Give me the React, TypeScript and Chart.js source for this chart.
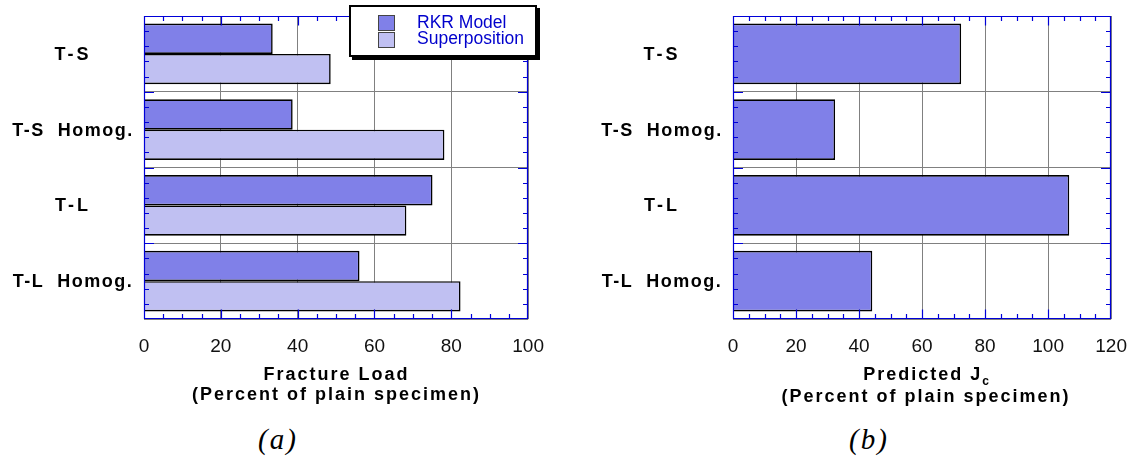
import React, { useEffect, useRef } from "react";
import { Chart, registerables } from "chart.js";

Chart.register(...registerables);

// ---------- data ----------
const categories = ["T-S", "T-S  Homog.", "T-L", "T-L  Homog."];
const seriesNames = ["RKR Model", "Superposition"];
const rkrFractureLoad = [33.5, 38.7, 75.1, 56.1];
const superpositionFractureLoad = [48.6, 78.2, 68.3, 82.4];
const predictedJc = [72.4, 32.4, 106.7, 44.2];
const loadTicks = [0, 20, 40, 60, 80, 100];
const jcTicks = [0, 20, 40, 60, 80, 100, 120];

// ---------- styles ----------
const RKR_COLOR = "#8080e8";
const SUP_COLOR = "#c0c0f2";
const FRAME = "#0000d8";
const GRID = "#808080";
const LEGEND_TEXT = "#0000cc";
const SANS = "'Liberation Sans', Arial, Helvetica, sans-serif";
const SERIF = "'Liberation Serif', 'Times New Roman', serif";

const CANVAS_H = 365;
const PLOT_TOP = 16;
const PLOT_H = 303;

const framePlugin = {
  id: "frameTicks",
  afterDraw(chart: any) {
    const { ctx, chartArea, scales } = chart;
    const { left, right, top, bottom } = chartArea;
    const x = scales.x;
    const y = scales.y;
    const L = Math.round(left) + 0.5;
    const R = Math.round(right) - 0.5;
    const T = Math.round(top) + 0.5;
    const B = Math.round(bottom) - 0.5;
    ctx.save();
    ctx.strokeStyle = FRAME;
    ctx.lineWidth = 1.2;
    ctx.beginPath();
    ctx.rect(L, T, R - L, B - T);
    ctx.stroke();
    // x ticks (inner, top & bottom)
    const major = x.options.ticks.stepSize;
    const minor = major / 4;
    ctx.beginPath();
    for (let v = x.min + minor; v < x.max - 1e-6; v += minor) {
      const px = Math.round(x.getPixelForValue(v)) + 0.5;
      const isMajor = Math.abs(v / major - Math.round(v / major)) < 1e-6;
      const len = isMajor ? 9 : 4.5;
      ctx.moveTo(px, B);
      ctx.lineTo(px, B - len);
      ctx.moveTo(px, T);
      ctx.lineTo(px, T + len);
    }
    // y ticks (inner, left & right), 5 subdivisions per category
    const n = chart.data.labels.length;
    for (let k = 1; k < n * 5; k++) {
      const py = Math.round(y.getPixelForValue(-0.5 + k / 5)) + 0.5;
      const len = k % 5 === 0 ? 9.5 : 4.5;
      ctx.moveTo(L, py);
      ctx.lineTo(L + len, py);
      ctx.moveTo(R, py);
      ctx.lineTo(R - len, py);
    }
    ctx.stroke();
    // category labels
    ctx.fillStyle = "#000";
    ctx.font = `bold 18px ${SANS}`;
    ctx.textAlign = "center";
    ctx.textBaseline = "middle";
    chart.data.labels.forEach((lab: string, i: number) => {
      (ctx as any).letterSpacing = lab.length <= 3 ? "3px" : "1.5px";
      ctx.fillText(lab, left - 71, y.getPixelForValue(i) + 1);
    });
    ctx.restore();
  },
};

function makeConfig(datasets: any[], ticks: number[], yWidth: number, padRight: number) {
  return {
    type: "bar" as const,
    data: { labels: categories, datasets },
    options: {
      indexAxis: "y" as const,
      animation: false as const,
      responsive: false,
      devicePixelRatio: 1,
      layout: { padding: { top: PLOT_TOP, left: 0, right: padRight, bottom: 0 } },
      plugins: { legend: { display: false }, tooltip: { enabled: false }, title: { display: false } },
      scales: {
        x: {
          type: "linear" as const,
          min: ticks[0],
          max: ticks[ticks.length - 1],
          ticks: {
            stepSize: ticks[1] - ticks[0],
            color: "#111",
            font: { family: SANS, size: 19 },
            padding: 16,
          },
          grid: { color: GRID, lineWidth: 1, drawTicks: false },
          border: { display: false },
          afterFit: (s: any) => {
            s.height = CANVAS_H - PLOT_TOP - PLOT_H;
          },
        },
        y: {
          type: "category" as const,
          ticks: { display: false },
          grid: { color: GRID, lineWidth: 1, drawTicks: false, offset: true },
          border: { display: false },
          afterFit: (s: any) => {
            s.width = yWidth;
          },
        },
      },
    },
    plugins: [framePlugin],
  };
}

function ChartCanvas({ config, left, width }: { config: any; left: number; width: number }) {
  const ref = useRef<HTMLCanvasElement | null>(null);
  useEffect(() => {
    if (!ref.current) return;
    const chart = new Chart(ref.current, config);
    return () => chart.destroy();
  }, [config]);
  return (
    <canvas
      ref={ref}
      width={width}
      height={CANVAS_H}
      style={{ position: "absolute", left, top: 0, width, height: CANVAS_H }}
    />
  );
}

const barStyle = {
  borderColor: "#000",
  borderWidth: 1.6,
  barPercentage: 1,
  categoryPercentage: 0.8,
};

const leftConfig = makeConfig(
  [
    { label: seriesNames[0], data: rkrFractureLoad, backgroundColor: RKR_COLOR, ...barStyle },
    { label: seriesNames[1], data: superpositionFractureLoad, backgroundColor: SUP_COLOR, ...barStyle },
  ],
  loadTicks,
  144,
  31
);

const rightConfig = makeConfig(
  [{ label: "Predicted Jc", data: predictedJc, backgroundColor: RKR_COLOR, ...barStyle }],
  jcTicks,
  153,
  24
);

const titleStyle: React.CSSProperties = {
  position: "absolute",
  top: 363.5,
  textAlign: "center",
  fontFamily: SANS,
  fontWeight: "bold",
  fontSize: 18,
  lineHeight: "20px",
  letterSpacing: "2px",
  color: "#000",
  whiteSpace: "nowrap",
};

const captionStyle: React.CSSProperties = {
  position: "absolute",
  top: 425,
  width: 100,
  textAlign: "center",
  fontFamily: SERIF,
  fontStyle: "italic",
  fontSize: 29,
  lineHeight: "29px",
  letterSpacing: "2px",
  paddingLeft: 2,
  color: "#000",
};

function Legend() {
  const sw: React.CSSProperties = {
    position: "absolute",
    left: 27,
    width: 15,
    height: 14,
    border: "1px solid #444",
  };
  const txt: React.CSSProperties = {
    position: "absolute",
    left: 66,
    fontFamily: SANS,
    fontSize: 17.5,
    lineHeight: "17.5px",
    color: LEGEND_TEXT,
    whiteSpace: "nowrap",
  };
  return (
    <div
      style={{
        position: "absolute",
        left: 349,
        top: 5,
        width: 188,
        height: 52,
        boxSizing: "border-box",
        border: "2px solid #000",
        background: "#fff",
        boxShadow: "3px 3px 0 #000",
      }}
    >
      <div style={{ ...sw, top: 8, background: RKR_COLOR }} />
      <div style={{ ...sw, top: 25, background: SUP_COLOR }} />
      <div style={{ ...txt, top: 6.5 }}>{seriesNames[0]}</div>
      <div style={{ ...txt, top: 22.8 }}>{seriesNames[1]}</div>
    </div>
  );
}

export default function App() {
  return (
    <div
      style={{
        position: "absolute",
        left: 0,
        top: 0,
        width: 1143,
        height: 461,
        background: "#fff",
        overflow: "hidden",
      }}
    >
      <ChartCanvas config={leftConfig} left={0} width={560} />
      <ChartCanvas config={rightConfig} left={580} width={563} />
      <Legend />
      <div style={{ ...titleStyle, left: 144, width: 385 }}>
        Fracture Load
        <br />
        (Percent of plain specimen)
      </div>
      <div style={{ ...titleStyle, left: 733, width: 386 }}>
        Predicted J
        <span style={{ fontSize: 12, position: "relative", top: 5, letterSpacing: 0 }}>c</span>
        <br />
        (Percent of plain specimen)
      </div>
      <div style={{ ...captionStyle, left: 226 }}>(a)</div>
      <div style={{ ...captionStyle, left: 817 }}>(b)</div>
    </div>
  );
}
